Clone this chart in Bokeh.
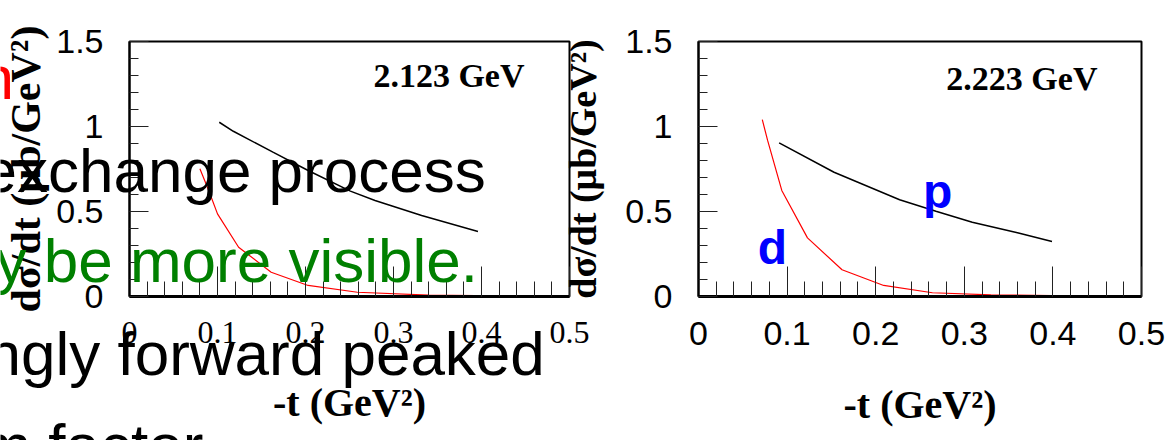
from bokeh.plotting import figure
from bokeh.models import FixedTicker, Range1d
from bokeh.layouts import row, column
from bokeh.core.properties import value
from bokeh.embed import file_html
from bokeh.resources import INLINE

# ---- data ----
left_p_t = [0.102, 0.118, 0.163, 0.203, 0.251, 0.279, 0.332, 0.396]
left_p_sig = [1.025, 0.972, 0.849, 0.741, 0.620, 0.565, 0.476, 0.382]
left_d_t = [0.080, 0.090, 0.100, 0.124, 0.161, 0.203, 0.259, 0.340, 0.420, 0.500]
left_d_sig = [0.751, 0.624, 0.486, 0.290, 0.143, 0.065, 0.025, 0.008, 0.004, 0.003]

right_p_t = [0.091, 0.153, 0.227, 0.268, 0.309, 0.360, 0.399]
right_p_sig = [0.904, 0.731, 0.569, 0.502, 0.437, 0.375, 0.324]
right_d_t = [0.072, 0.078, 0.094, 0.123, 0.162, 0.209, 0.264, 0.330, 0.399, 0.500]
right_d_sig = [1.040, 0.918, 0.624, 0.345, 0.157, 0.065, 0.022, 0.010, 0.005, 0.003]

x_ticks = [0, 0.1, 0.2, 0.3, 0.4, 0.5]
x_tick_labels = ["0", "0.1", "0.2", "0.3", "0.4", "0.5"]
y_ticks = [0, 0.5, 1, 1.5]
y_tick_labels = ["0", "0.5", "1", "1.5"]

energy_left = "2.123 GeV"
energy_right = "2.223 GeV"
x_title = "-t (GeV²)"
y_title = "dσ/dt (μb/GeV²)"

slide_lines = ["n", "exchange process", "y be more visible.", "ngly forward peaked", "m factor"]
slide_colors = ["#FF0000", "#000000", "#008000", "#000000", "#000000"]
slide_x = [-21, -18, -5, -14, -21]
slide_y = [77, 170, 260, 353, 445]

SANS = "Liberation Sans"
SERIF = "Liberation Serif"
H = 440


def make_panel(width, left_border, right_border, xtick_font, xtick_size,
               ylab_size, ylab_standoff, border_fill, margin=None):
    p = figure(width=width, height=H, output_backend="svg", toolbar_location=None,
               x_range=Range1d(0, 0.5), y_range=Range1d(0, 1.5),
               min_border_left=left_border, min_border_right=right_border,
               min_border_top=41, min_border_bottom=H - 296, margin=margin)
    p.grid.visible = False
    p.background_fill_color = "white"
    p.border_fill_color = border_fill
    p.outline_line_color = "black"
    p.outline_line_width = 2

    minor_x = [round(i * 0.02, 2) for i in range(26)]
    minor_y = [round(i * 0.1, 1) for i in range(16)]
    p.xaxis.ticker = FixedTicker(ticks=x_ticks, minor_ticks=minor_x)
    p.yaxis.ticker = FixedTicker(ticks=y_ticks, minor_ticks=minor_y)
    p.xaxis.major_label_overrides = dict(zip(x_ticks, x_tick_labels))
    p.yaxis.major_label_overrides = dict(zip(y_ticks, y_tick_labels))

    for ax in (p.xaxis[0], p.yaxis[0]):
        ax.axis_line_color = "black"
        ax.axis_line_width = 2
        ax.major_tick_out = 0
        ax.minor_tick_out = 0
        ax.major_tick_line_color = "#222222"
        ax.minor_tick_line_color = "#222222"
        ax.major_label_text_color = "black"
        ax.axis_label_text_color = "black"
        ax.axis_label_text_font = SERIF
        ax.axis_label_text_font_style = "bold"

    p.xaxis.axis_line_width = 3
    p.xaxis.major_tick_in = 30
    p.xaxis.minor_tick_in = 15
    p.yaxis.major_tick_in = 19
    p.yaxis.minor_tick_in = 9

    p.xaxis.major_label_text_font = xtick_font
    p.xaxis.major_label_text_font_size = xtick_size
    p.xaxis.major_label_standoff = 25
    p.yaxis.major_label_text_font = SANS
    p.yaxis.major_label_text_font_size = "34px"
    p.yaxis.major_label_standoff = 26

    p.xaxis.axis_label = x_title
    p.xaxis.axis_label_text_font_size = "40px"
    p.xaxis.axis_label_standoff = 34
    p.yaxis.axis_label = y_title
    p.yaxis.axis_label_text_font_size = ylab_size
    p.yaxis.axis_label_standoff = ylab_standoff
    return p


left = make_panel(590, 127, 21, SERIF, "32px", "42px", 4, "white")
right = make_panel(610, 137, 28, SANS, "34px", "38px", 18, None, margin=(0, 0, 0, -31))

left.line(left_p_t, left_p_sig, line_color="black", line_width=1.5)
left.line(left_d_t, left_d_sig, line_color="#FF0000", line_width=1.2)
right.line(right_p_t, right_p_sig, line_color="black", line_width=1.5)
right.line(right_d_t, right_d_sig, line_color="#FF0000", line_width=1.2)

left.text(x=[0.363], y=[1.30], text=[energy_left], text_font=value(SERIF),
          text_font_style="bold", text_font_size="34px", text_align="center",
          text_baseline="middle", text_color="black")
right.text(x=[0.365], y=[1.28], text=[energy_right], text_font=value(SERIF),
           text_font_style="bold", text_font_size="34px", text_align="center",
           text_baseline="middle", text_color="black")

right.text(x=[0.270], y=[0.62], text=["p"], text_font=value(SANS),
           text_font_style="bold", text_font_size="48px", text_align="center",
           text_baseline="alphabetic", text_color="#0000FF")
right.text(x=[0.0833], y=[0.29], text=["d"], text_font=value(SANS),
           text_font_style="bold", text_font_size="48px", text_align="center",
           text_baseline="alphabetic", text_color="#0000FF")

# transparent layer carrying the slide text that lies over the left panel
overlay = figure(width=571, height=H, output_backend="svg", toolbar_location=None,
                 x_range=Range1d(0, 571), y_range=Range1d(H, 0),
                 x_axis_type=None, y_axis_type=None, min_border=0,
                 margin=(-H, 0, 0, 0))
overlay.grid.visible = False
overlay.outline_line_color = None
overlay.background_fill_color = None
overlay.border_fill_color = None
overlay.text(x=slide_x, y=slide_y, text=slide_lines, text_color=slide_colors,
             text_font=value(SANS), text_font_size="62px",
             text_align="left", text_baseline="alphabetic")

layout = column(row(left, right), overlay)
open("out.html", "w").write(file_html(layout, INLINE))
